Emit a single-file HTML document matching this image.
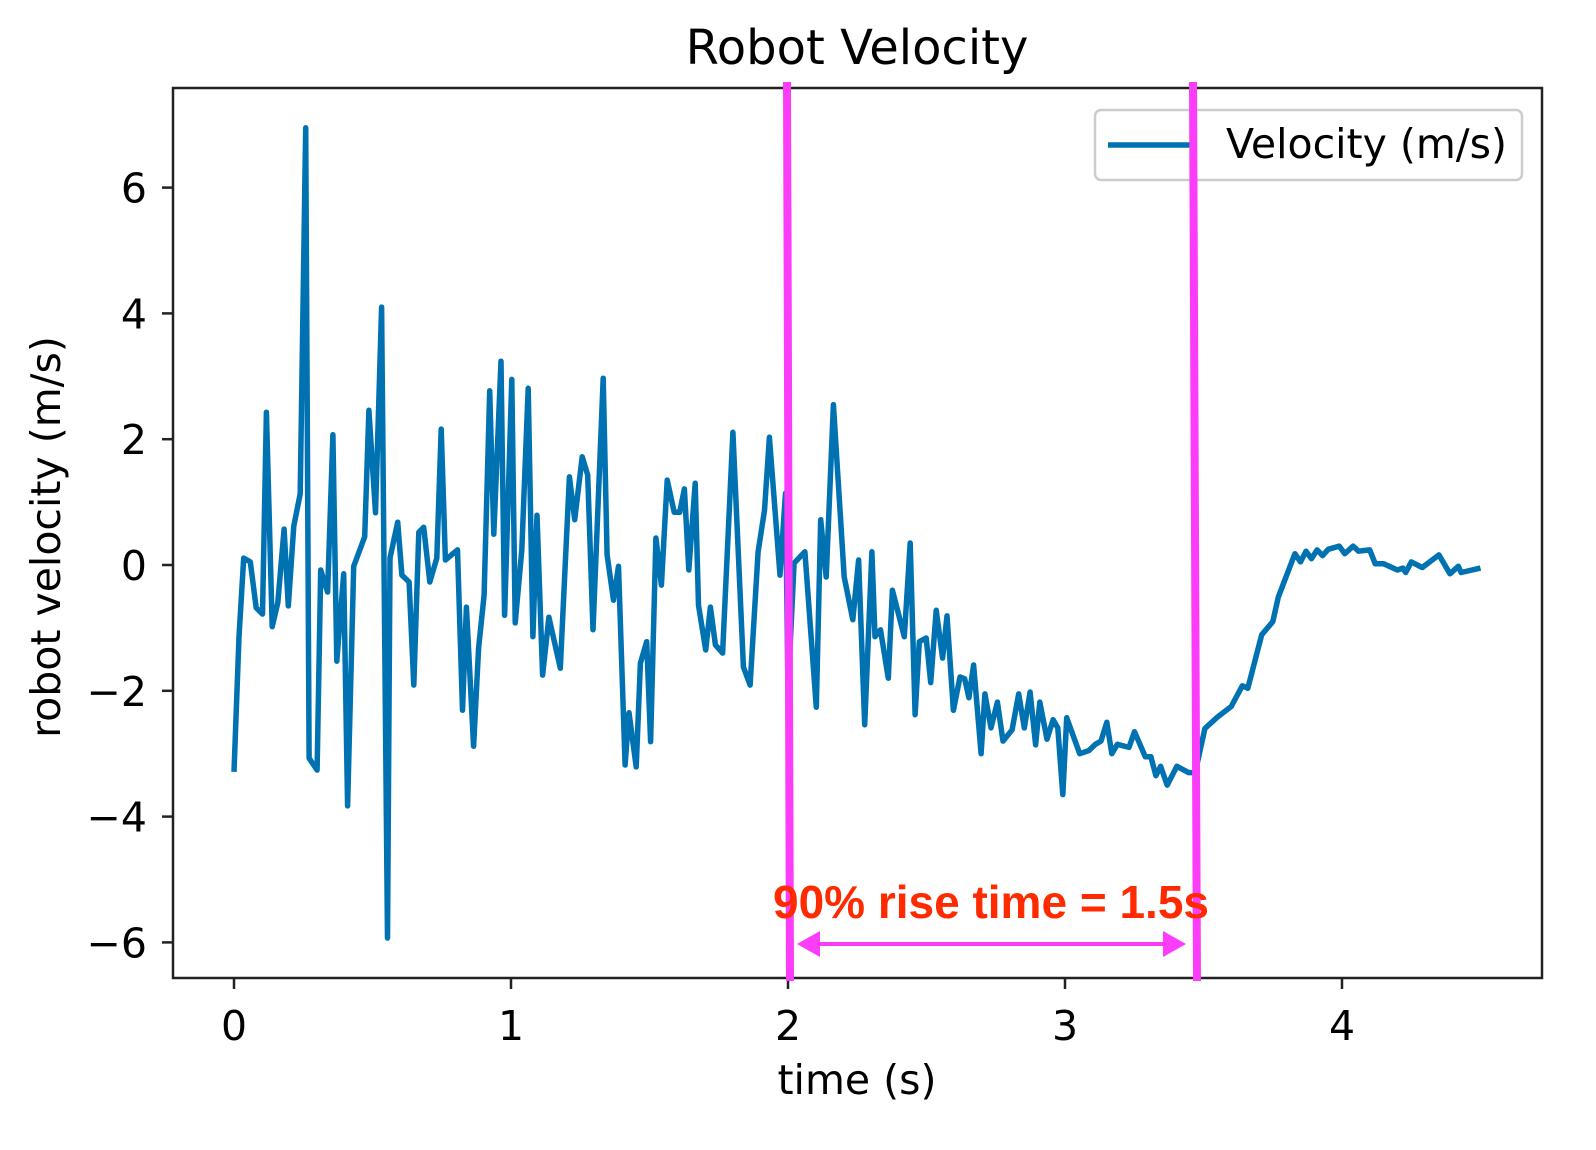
<!DOCTYPE html>
<html><head><meta charset="utf-8">
<style>
html,body{margin:0;padding:0;background:#fff;}
svg{display:block;}
text{font-family:"DejaVu Sans","Liberation Sans",sans-serif;fill:#000;}
</style></head>
<body>
<svg id="chart" width="1596" height="1150" viewBox="0 0 1596 1150">
  <text x="857" y="64" font-size="48" text-anchor="middle">Robot Velocity</text>
  <g id="xticks"></g>
  <g id="yticks"></g>
  <text x="857" y="1094" font-size="41" text-anchor="middle">time (s)</text>
  <text transform="translate(60,537) rotate(-90)" font-size="41" text-anchor="middle">robot velocity (m/s)</text>
  <clipPath id="clip"><rect x="173" y="88" width="1369" height="890"/></clipPath>
  <path id="series" clip-path="url(#clip)" fill="none" stroke="#0072b2" stroke-width="5.5" stroke-linejoin="round"/>
  <rect x="173" y="88" width="1369" height="890" fill="none" stroke="#222" stroke-width="2.5"/>
  <g>
    <rect x="1095" y="110" width="427" height="70" rx="6" fill="#fff" fill-opacity="0.85" stroke="#ccc" stroke-width="2.5"/>
    <line x1="1108" y1="145" x2="1190" y2="145" stroke="#0072b2" stroke-width="5.5"/>
    <text x="1226" y="158" font-size="41">Velocity (m/s)</text>
  </g>
  <line x1="787" y1="82" x2="790" y2="981" stroke="#fb3cf9" stroke-width="8"/>
  <line x1="1193" y1="82" x2="1197" y2="981" stroke="#fb3cf9" stroke-width="8"/>
  <g>
    <line x1="812" y1="944" x2="1172" y2="944" stroke="#fb3cf9" stroke-width="4"/>
    <polygon points="797,944 820,931 820,957" fill="#fb3cf9"/>
    <polygon points="1186,944 1163,931 1163,957" fill="#fb3cf9"/>
  </g>
  <text x="991" y="918" font-size="46" font-weight="bold" text-anchor="middle" style="font-family:'Liberation Sans',sans-serif;fill:#ff2a00">90% rise time = 1.5s</text>
</svg>
<script>
const tVals = [0,0.018,0.035,0.059,0.080,0.103,0.117,0.138,0.158,0.181,0.196,0.216,0.239,0.259,0.271,0.300,0.313,0.338,0.357,0.371,0.396,0.410,0.432,0.472,0.487,0.511,0.533,0.554,0.563,0.591,0.606,0.632,0.649,0.667,0.685,0.707,0.732,0.748,0.763,0.807,0.825,0.839,0.865,0.883,0.903,0.923,0.938,0.964,0.977,
1.003,1.015,1.039,1.062,1.079,1.094,1.114,1.137,1.178,1.211,1.230,1.257,1.277,1.296,1.333,1.347,1.370,1.388,1.412,1.426,1.452,1.467,1.490,1.504,1.523,1.543,1.564,1.589,1.609,1.626,1.642,1.665,1.677,1.703,1.720,1.738,1.764,1.801,1.839,1.863,1.892,1.915,1.933,1.971,1.991,
2.000,2.022,2.061,2.102,2.118,2.138,2.164,2.203,2.234,2.255,2.277,2.303,2.314,2.334,2.362,2.377,2.420,2.441,2.459,2.474,2.499,2.515,2.535,2.558,2.574,2.597,2.621,2.638,2.653,2.670,2.697,2.711,2.733,2.756,2.776,2.809,2.833,2.853,2.874,2.894,2.909,2.935,2.957,2.974,2.992,3.006,3.053,3.086,3.110,3.130,3.151,3.169,3.189,3.231,3.251,3.290,3.310,3.328,3.345,3.369,3.404,3.446,3.470,3.505,
3.55,3.60,3.64,3.66,3.71,3.75,3.77,3.83,3.85,3.87,3.89,3.91,3.93,3.95,3.99,4.01,4.04,4.06,4.10,4.12,4.15,4.20,4.22,4.23,4.25,4.29,4.35,4.39,4.42,4.43,4.50];
const velocity = [-3.29,-1.14,0.11,0.05,-0.68,-0.78,2.43,-0.98,-0.6,0.57,-0.65,0.62,1.13,6.95,-3.07,-3.26,-0.08,-0.43,2.07,-1.53,-0.14,-3.83,-0.02,0.45,2.46,0.83,4.10,-5.93,0.11,0.68,-0.16,-0.27,-1.91,0.52,0.60,-0.27,0.11,2.16,0.08,0.24,-2.31,-0.67,-2.88,-1.32,-0.48,2.77,0.49,3.24,-0.80,
2.95,-0.92,0.24,2.81,-1.14,0.79,-1.75,-0.83,-1.64,1.40,0.72,1.72,1.43,-1.03,2.97,0.16,-0.56,-0.02,-3.18,-2.35,-3.21,-1.56,-1.22,-2.81,0.43,-0.32,1.35,0.84,0.84,1.21,-0.08,1.30,-0.64,-1.35,-0.67,-1.27,-1.40,2.11,-1.62,-1.91,0.21,0.87,2.03,-0.16,1.14,
-2.0,0.03,0.21,-2.26,0.72,-0.19,2.55,-0.19,-0.87,0.08,-2.54,0.21,-1.14,-1.03,-1.80,-0.40,-1.14,0.35,-2.38,-1.22,-1.16,-1.87,-0.72,-1.48,-0.81,-2.31,-1.78,-1.81,-2.11,-1.59,-3.0,-2.05,-2.59,-2.18,-2.80,-2.62,-2.05,-2.59,-2.02,-2.86,-2.18,-2.77,-2.46,-2.59,-3.65,-2.43,-3.0,-2.95,-2.85,-2.8,-2.5,-3.0,-2.85,-2.9,-2.65,-3.05,-3.05,-3.35,-3.2,-3.5,-3.2,-3.3,-3.3,-2.6,
-2.42,-2.25,-1.92,-1.96,-1.11,-0.90,-0.51,0.18,0.05,0.22,0.1,0.24,0.15,0.25,0.30,0.18,0.30,0.22,0.24,0.02,0.02,-0.08,-0.05,-0.12,0.05,-0.04,0.16,-0.14,-0.02,-0.12,-0.05];
const xTicks = [0,1,2,3,4];
const yTicks = [-6,-4,-2,0,2,4,6];
const yTickLabels = ["\u22126","\u22124","\u22122","0","2","4","6"];

const xScale = t => 234 + t * 277;
const yScale = v => 565 - v * 62.9;
const NS = "http://www.w3.org/2000/svg";

let d = "";
for (let i = 0; i < tVals.length; i++) {
  d += (i ? "L" : "M") + xScale(tVals[i]).toFixed(1) + "," + yScale(velocity[i]).toFixed(1);
}
document.getElementById("series").setAttribute("d", d);

const xg = document.getElementById("xticks");
xTicks.forEach(t => {
  const x = xScale(t);
  const ln = document.createElementNS(NS, "line");
  ln.setAttribute("x1", x); ln.setAttribute("x2", x);
  ln.setAttribute("y1", 978); ln.setAttribute("y2", 989);
  ln.setAttribute("stroke", "#222"); ln.setAttribute("stroke-width", "2.5");
  
  
  xg.appendChild(ln);
  const tx = document.createElementNS(NS, "text");
  tx.setAttribute("x", x); tx.setAttribute("y", 1040);
  tx.setAttribute("font-size", "41"); tx.setAttribute("text-anchor", "middle");
  tx.textContent = String(t);
  
  
  xg.appendChild(tx);
});
const yg = document.getElementById("yticks");
yTicks.forEach((v, i) => {
  const y = yScale(v);
  const ln = document.createElementNS(NS, "line");
  ln.setAttribute("x1", 162); ln.setAttribute("x2", 173);
  ln.setAttribute("y1", y); ln.setAttribute("y2", y);
  ln.setAttribute("stroke", "#222"); ln.setAttribute("stroke-width", "2.5");
  
  
  yg.appendChild(ln);
  const tx = document.createElementNS(NS, "text");
  tx.setAttribute("x", 147); tx.setAttribute("y", y + 15);
  tx.setAttribute("font-size", "41"); tx.setAttribute("text-anchor", "end");
  tx.textContent = yTickLabels[i];
  
  
  yg.appendChild(tx);
});
</script>
</body></html>
